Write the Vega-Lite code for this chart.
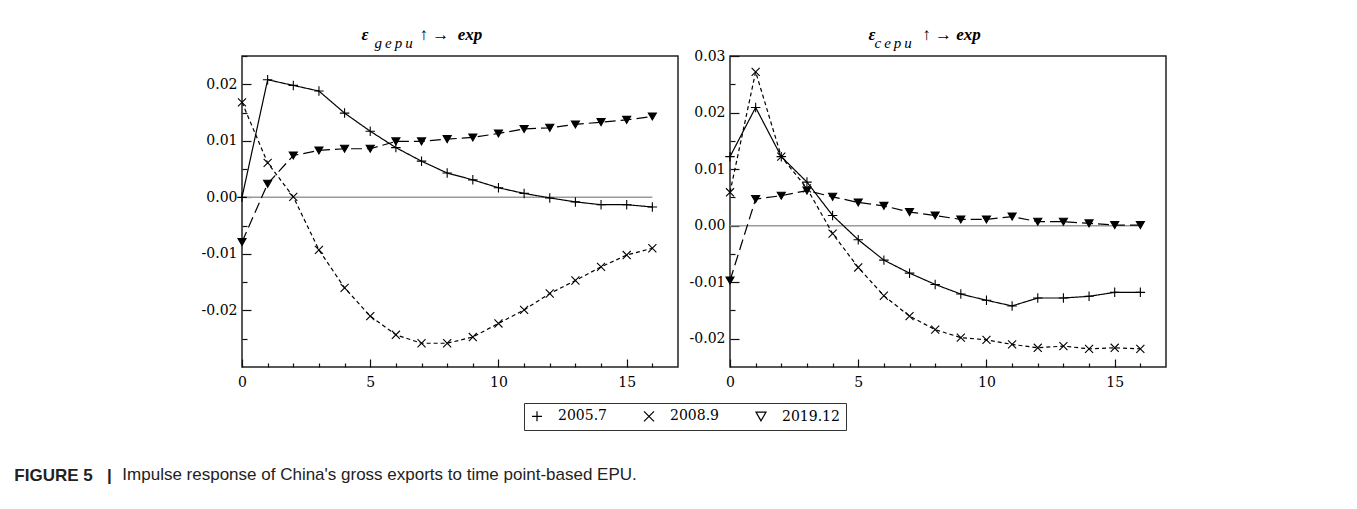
{
  "$schema": "https://vega.github.io/schema/vega-lite/v6.json",
  "padding": {"left": 14, "top": 24, "right": 5, "bottom": 5},
  "background": "white",
  "datasets": {
    "irf": [
      {"p":"g","s":"2005.7","t":0,"v":0},{"p":"g","s":"2005.7","t":1,"v":0.0208},{"p":"g","s":"2005.7","t":2,"v":0.0198},{"p":"g","s":"2005.7","t":3,"v":0.0188},{"p":"g","s":"2005.7","t":4,"v":0.0149},{"p":"g","s":"2005.7","t":5,"v":0.0117},{"p":"g","s":"2005.7","t":6,"v":0.0088},{"p":"g","s":"2005.7","t":7,"v":0.0064},{"p":"g","s":"2005.7","t":8,"v":0.0043},{"p":"g","s":"2005.7","t":9,"v":0.0031},{"p":"g","s":"2005.7","t":10,"v":0.0017},{"p":"g","s":"2005.7","t":11,"v":0.0007},{"p":"g","s":"2005.7","t":12,"v":-0.0001},{"p":"g","s":"2005.7","t":13,"v":-0.0008},{"p":"g","s":"2005.7","t":14,"v":-0.0013},{"p":"g","s":"2005.7","t":15,"v":-0.0013},{"p":"g","s":"2005.7","t":16,"v":-0.0017},
      {"p":"g","s":"2008.9","t":0,"v":0.0168},{"p":"g","s":"2008.9","t":1,"v":0.0061},{"p":"g","s":"2008.9","t":2,"v":0.0001},{"p":"g","s":"2008.9","t":3,"v":-0.0093},{"p":"g","s":"2008.9","t":4,"v":-0.016},{"p":"g","s":"2008.9","t":5,"v":-0.021},{"p":"g","s":"2008.9","t":6,"v":-0.0243},{"p":"g","s":"2008.9","t":7,"v":-0.0258},{"p":"g","s":"2008.9","t":8,"v":-0.0258},{"p":"g","s":"2008.9","t":9,"v":-0.0247},{"p":"g","s":"2008.9","t":10,"v":-0.0223},{"p":"g","s":"2008.9","t":11,"v":-0.0199},{"p":"g","s":"2008.9","t":12,"v":-0.017},{"p":"g","s":"2008.9","t":13,"v":-0.0147},{"p":"g","s":"2008.9","t":14,"v":-0.0123},{"p":"g","s":"2008.9","t":15,"v":-0.0102},{"p":"g","s":"2008.9","t":16,"v":-0.009},
      {"p":"g","s":"2019.12","t":0,"v":-0.0079},{"p":"g","s":"2019.12","t":1,"v":0.0024},{"p":"g","s":"2019.12","t":2,"v":0.0074},{"p":"g","s":"2019.12","t":3,"v":0.0083},{"p":"g","s":"2019.12","t":4,"v":0.0086},{"p":"g","s":"2019.12","t":5,"v":0.0086},{"p":"g","s":"2019.12","t":6,"v":0.0099},{"p":"g","s":"2019.12","t":7,"v":0.0099},{"p":"g","s":"2019.12","t":8,"v":0.0103},{"p":"g","s":"2019.12","t":9,"v":0.0106},{"p":"g","s":"2019.12","t":10,"v":0.0113},{"p":"g","s":"2019.12","t":11,"v":0.0121},{"p":"g","s":"2019.12","t":12,"v":0.0123},{"p":"g","s":"2019.12","t":13,"v":0.0129},{"p":"g","s":"2019.12","t":14,"v":0.0133},{"p":"g","s":"2019.12","t":15,"v":0.0137},{"p":"g","s":"2019.12","t":16,"v":0.0143},
      {"p":"c","s":"2005.7","t":0,"v":0.0122},{"p":"c","s":"2005.7","t":1,"v":0.0209},{"p":"c","s":"2005.7","t":2,"v":0.0122},{"p":"c","s":"2005.7","t":3,"v":0.0077},{"p":"c","s":"2005.7","t":4,"v":0.0018},{"p":"c","s":"2005.7","t":5,"v":-0.0025},{"p":"c","s":"2005.7","t":6,"v":-0.0061},{"p":"c","s":"2005.7","t":7,"v":-0.0084},{"p":"c","s":"2005.7","t":8,"v":-0.0104},{"p":"c","s":"2005.7","t":9,"v":-0.0121},{"p":"c","s":"2005.7","t":10,"v":-0.0132},{"p":"c","s":"2005.7","t":11,"v":-0.0142},{"p":"c","s":"2005.7","t":12,"v":-0.0128},{"p":"c","s":"2005.7","t":13,"v":-0.0128},{"p":"c","s":"2005.7","t":14,"v":-0.0125},{"p":"c","s":"2005.7","t":15,"v":-0.0118},{"p":"c","s":"2005.7","t":16,"v":-0.0118},
      {"p":"c","s":"2008.9","t":0,"v":0.0059},{"p":"c","s":"2008.9","t":1,"v":0.0272},{"p":"c","s":"2008.9","t":2,"v":0.0122},{"p":"c","s":"2008.9","t":3,"v":0.0066},{"p":"c","s":"2008.9","t":4,"v":-0.0014},{"p":"c","s":"2008.9","t":5,"v":-0.0074},{"p":"c","s":"2008.9","t":6,"v":-0.0124},{"p":"c","s":"2008.9","t":7,"v":-0.016},{"p":"c","s":"2008.9","t":8,"v":-0.0184},{"p":"c","s":"2008.9","t":9,"v":-0.0198},{"p":"c","s":"2008.9","t":10,"v":-0.0202},{"p":"c","s":"2008.9","t":11,"v":-0.021},{"p":"c","s":"2008.9","t":12,"v":-0.0216},{"p":"c","s":"2008.9","t":13,"v":-0.0213},{"p":"c","s":"2008.9","t":14,"v":-0.0218},{"p":"c","s":"2008.9","t":15,"v":-0.0216},{"p":"c","s":"2008.9","t":16,"v":-0.0218},
      {"p":"c","s":"2019.12","t":0,"v":-0.0097},{"p":"c","s":"2019.12","t":1,"v":0.0047},{"p":"c","s":"2019.12","t":2,"v":0.0053},{"p":"c","s":"2019.12","t":3,"v":0.0062},{"p":"c","s":"2019.12","t":4,"v":0.0051},{"p":"c","s":"2019.12","t":5,"v":0.0041},{"p":"c","s":"2019.12","t":6,"v":0.0035},{"p":"c","s":"2019.12","t":7,"v":0.0024},{"p":"c","s":"2019.12","t":8,"v":0.0018},{"p":"c","s":"2019.12","t":9,"v":0.0011},{"p":"c","s":"2019.12","t":10,"v":0.0011},{"p":"c","s":"2019.12","t":11,"v":0.0016},{"p":"c","s":"2019.12","t":12,"v":0.0007},{"p":"c","s":"2019.12","t":13,"v":0.0007},{"p":"c","s":"2019.12","t":14,"v":0.0004},{"p":"c","s":"2019.12","t":15,"v":0.0001},{"p":"c","s":"2019.12","t":16,"v":0.0001}
    ]
  },
  "title": {"text": "Impulse response of China's gross exports to time point-based EPU.", "orient": "bottom", "anchor": "start", "dx": 108, "dy": -17, "offset": 0, "font": "Liberation Sans", "fontSize": 17, "fontWeight": "normal", "color": "#222"},
  "vconcat": [
    {
      "title": {"text": "FIGURE 5\u00a0\u00a0\u00a0|", "orient": "bottom", "anchor": "start", "dx": -186, "offset": 37, "font": "Liberation Sans", "fontSize": 17, "fontWeight": "bold", "color": "#222"},
      "spacing": 52,
      "bounds": "flush",
      "resolve": {"legend": {"shape": "independent"}, "scale": {"shape": "independent"}},
      "hconcat": [
        {
          "width": 436, "height": 311,
          "encoding": {
            "x": {"field": "t", "type": "quantitative", "scale": {"domain": [0, 17], "nice": false, "zero": false},
                  "title": "ε\u00a0\u00a0\u00a0\u00a0\u00a0\u00a0\u00a0\u00a0\u00a0\u00a0\u00a0\u00a0↑ →\u00a0\u00a0exp",
                  "axis": {"titleX": 119, "titleY": -328, "titleAlign": "left", "titleBaseline": "alphabetic", "titleAngle": 0, "titleFont": "Liberation Serif", "titleFontSize": 17, "titleFontStyle": "italic", "titleFontWeight": "bold", "titleColor": "black",
                           "values": [0,1,2,3,4,5,6,7,8,9,10,11,12,13,14,15,16], "tickSize": {"condition": {"test": "datum.value % 5 === 0", "value": -8}, "value": -4}, "labelExpr": "datum.value % 5 === 0 ? datum.label : ''", "labelPadding": 16, "labelFlush": false, "labelOverlap": false}},
            "y": {"field": "v", "type": "quantitative", "scale": {"domain": [-0.03, 0.025], "nice": false, "zero": false},
                  "title": "g\u2009e\u2009p\u2009u",
                  "axis": {"titleX": 132, "titleY": -9, "titleAlign": "left", "titleBaseline": "alphabetic", "titleAngle": 0, "titleFont": "Liberation Serif", "titleFontSize": 15, "titleFontStyle": "italic", "titleFontWeight": "normal", "titleColor": "black",
                           "values": [-0.025,-0.02,-0.015,-0.01,-0.005,0,0.005,0.01,0.015,0.02,0.025], "tickSize": {"condition": {"test": "abs(datum.value*100 - round(datum.value*100)) < 0.001", "value": -9}, "value": -5}, "labelExpr": "abs(datum.value*100 - round(datum.value*100)) < 0.001 ? replace(format(datum.value, '.2f'), '−', '-') : ''", "labelPadding": 14, "labelOverlap": false}}
          },
          "layer": [
            {"data": {"values": [{"t": 0, "t2": 16, "v": 0}]}, "mark": {"type": "rule", "color": "#9a9a9a", "strokeWidth": 1.5}, "encoding": {"x2": {"field": "t2"}}},
            {"data": {"name": "irf"}, "transform": [{"filter": "datum.p === 'g'"}], "mark": {"type": "line", "color": "black", "strokeWidth": 1.2},
             "encoding": {"strokeDash": {"field": "s", "type": "nominal", "scale": {"domain": ["2005.7","2008.9","2019.12"], "range": [[1,0],[4,3],[11,5]]}, "legend": null}}},
            {"data": {"name": "irf"}, "transform": [{"filter": "datum.p === 'g'"}], "mark": {"type": "point", "stroke": "black", "strokeWidth": 1.1, "opacity": 1},
             "encoding": {
               "shape": {"field": "s", "type": "nominal", "scale": {"domain": ["2005.7","2008.9","2019.12"], "range": ["M-1,0H1M0,-1V1", "M-1,-1L1,1M-1,1L1,-1", "triangle-down"]},
                         "legend": {"orient": "none", "legendX": 282, "legendY": 347, "direction": "horizontal", "title": null, "labelFont": "DejaVu Serif", "labelFontSize": 14, "labelColor": "black", "strokeColor": "#333", "fillColor": "white", "padding": 6, "columnPadding": 34, "labelOffset": 14, "symbolSize": 100, "symbolStrokeColor": "black", "symbolStrokeWidth": 1.2, "symbolFillColor": "black"}},
               "fill": {"condition": {"test": "datum.s === '2019.12'", "value": "black"}, "value": "transparent"},
               "size": {"condition": {"test": "datum.s === '2005.7'", "value": 90}, "value": 65}
             }}
          ]
        },
        {
          "width": 436, "height": 311,
          "encoding": {
            "x": {"field": "t", "type": "quantitative", "scale": {"domain": [0, 17], "nice": false, "zero": false},
                  "title": "ε\u00a0\u00a0\u00a0\u00a0\u00a0\u00a0\u00a0\u00a0\u00a0\u00a0\u00a0↑ →\u00a0exp",
                  "axis": {"titleX": 138, "titleY": -328, "titleAlign": "left", "titleBaseline": "alphabetic", "titleAngle": 0, "titleFont": "Liberation Serif", "titleFontSize": 17, "titleFontStyle": "italic", "titleFontWeight": "bold", "titleColor": "black",
                           "values": [0,1,2,3,4,5,6,7,8,9,10,11,12,13,14,15,16], "tickSize": {"condition": {"test": "datum.value % 5 === 0", "value": -8}, "value": -4}, "labelExpr": "datum.value % 5 === 0 ? datum.label : ''", "labelPadding": 16, "labelFlush": false, "labelOverlap": false}},
            "y": {"field": "v", "type": "quantitative", "scale": {"domain": [-0.025, 0.03], "nice": false, "zero": false},
                  "title": "c\u2009e\u2009p\u2009u",
                  "axis": {"titleX": 144, "titleY": -9, "titleAlign": "left", "titleBaseline": "alphabetic", "titleAngle": 0, "titleFont": "Liberation Serif", "titleFontSize": 15, "titleFontStyle": "italic", "titleFontWeight": "normal", "titleColor": "black",
                           "values": [-0.02,-0.015,-0.01,-0.005,0,0.005,0.01,0.015,0.02,0.025,0.03], "tickSize": {"condition": {"test": "abs(datum.value*100 - round(datum.value*100)) < 0.001", "value": -9}, "value": -5}, "labelExpr": "abs(datum.value*100 - round(datum.value*100)) < 0.001 ? replace(format(datum.value, '.2f'), '−', '-') : ''", "labelPadding": 14, "labelOverlap": false}}
          },
          "layer": [
            {"data": {"values": [{"t": 0, "t2": 16, "v": 0}]}, "mark": {"type": "rule", "color": "#9a9a9a", "strokeWidth": 1.5}, "encoding": {"x2": {"field": "t2"}}},
            {"data": {"name": "irf"}, "transform": [{"filter": "datum.p === 'c'"}], "mark": {"type": "line", "color": "black", "strokeWidth": 1.2},
             "encoding": {"strokeDash": {"field": "s", "type": "nominal", "scale": {"domain": ["2005.7","2008.9","2019.12"], "range": [[1,0],[4,3],[11,5]]}, "legend": null}}},
            {"data": {"name": "irf"}, "transform": [{"filter": "datum.p === 'c'"}], "mark": {"type": "point", "stroke": "black", "strokeWidth": 1.1, "opacity": 1},
             "encoding": {
               "shape": {"field": "s", "type": "nominal", "scale": {"domain": ["2005.7","2008.9","2019.12"], "range": ["M-1,0H1M0,-1V1", "M-1,-1L1,1M-1,1L1,-1", "triangle-down"]}, "legend": null},
               "fill": {"condition": {"test": "datum.s === '2019.12'", "value": "black"}, "value": "transparent"},
               "size": {"condition": {"test": "datum.s === '2005.7'", "value": 90}, "value": 65}
             }}
          ]
        }
      ]
    }
  ],
  "config": {
    "view": {"stroke": "#222", "strokeWidth": 1.5},
    "axis": {"domain": false, "grid": false, "ticks": true, "tickColor": "#111", "tickWidth": 1.2, "labelFont": "DejaVu Serif", "labelFontSize": 14, "labelColor": "black"}
  }
}
